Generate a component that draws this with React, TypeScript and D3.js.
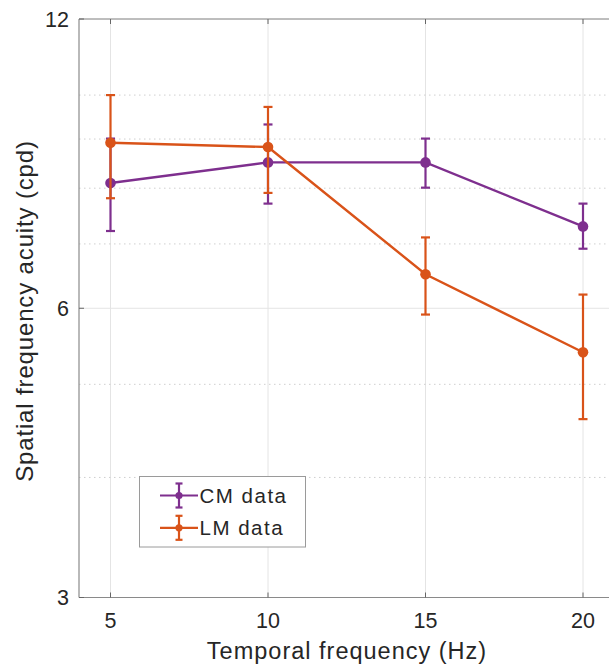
import React from "react";
import * as d3 from "d3";

const freqs = [5, 10, 15, 20];
const cmMean = [8.1, 8.51, 8.51, 7.3];
const cmLow = [7.22, 7.71, 8.01, 6.92];
const cmHigh = [9.01, 9.32, 9.01, 7.71];
const lmMean = [8.92, 8.83, 6.51, 5.4];
const lmLow = [7.81, 7.91, 5.91, 4.6];
const lmHigh = [10.0, 9.72, 7.11, 6.2];
const xTicks = [5, 10, 15, 20];
const yTicks = [3, 6, 12];
const yMinor = [4, 5, 7, 8, 9, 10];
const seriesNames = ["CM data", "LM data"];
const colors = ["#7E2F8E", "#D95319"];

const W = 609;
const H = 665;
const left = 79;
const top = 19;
const bottom = 597.5;
const right = 614.5;

export default function App() {
  const x = d3.scaleLinear().domain([4, 21]).range([left, right]);
  const y = d3.scaleLog().domain([3, 12]).range([bottom, top]);
  const line = d3
    .line<number>()
    .x((_, i) => x(freqs[i]))
    .y((d) => y(d));
  const series = [
    { mean: cmMean, low: cmLow, high: cmHigh },
    { mean: lmMean, low: lmLow, high: lmHigh },
  ];
  const font = "'Liberation Sans', Arial, Helvetica, sans-serif";
  const axisColor = "#8a8a8a";
  const cap = 4.5;
  return (
    <svg
      width={W}
      height={H}
      style={{ position: "absolute", left: 0, top: 0, background: "#fff" }}
      fontFamily={font}
    >
      <rect x={0} y={0} width={W} height={H} fill="#fff" />
      {/* grid */}
      {xTicks.map((t) => (
        <line key={"gx" + t} x1={x(t)} x2={x(t)} y1={top} y2={bottom} stroke="#e4e4e4" strokeWidth={1} />
      ))}
      {yMinor.map((t) => (
        <line key={"gm" + t} x1={left} x2={right} y1={y(t)} y2={y(t)} stroke="#cfcfcf" strokeWidth={1} strokeDasharray="1.5,3.5" />
      ))}
      {yTicks.map((t) => (
        <line key={"gy" + t} x1={left} x2={right} y1={y(t)} y2={y(t)} stroke="#e4e4e4" strokeWidth={1} />
      ))}
      {/* axes */}
      <line x1={left} x2={right} y1={top} y2={top} stroke={axisColor} strokeWidth={1.2} />
      <line x1={left} x2={right} y1={bottom} y2={bottom} stroke={axisColor} strokeWidth={1.2} />
      <line x1={left} x2={left} y1={top} y2={bottom} stroke={axisColor} strokeWidth={1.2} />
      {xTicks.map((t) => (
        <g key={"tx" + t}>
          <line x1={x(t)} x2={x(t)} y1={bottom} y2={bottom - 5} stroke="#666" strokeWidth={1} />
          <line x1={x(t)} x2={x(t)} y1={top} y2={top + 5} stroke="#666" strokeWidth={1} />
          <text x={x(t)} y={627.5} textAnchor="middle" fontSize={21.5} fill="#262626">
            {t}
          </text>
        </g>
      ))}
      {yTicks.map((t) => (
        <g key={"ty" + t}>
          <line x1={left} x2={left + 5} y1={y(t)} y2={y(t)} stroke="#666" strokeWidth={1} />
          <text x={69} y={y(t) + 7.5} textAnchor="end" fontSize={21.5} fill="#262626">
            {t}
          </text>
        </g>
      ))}
      <text x={347} y={658.5} textAnchor="middle" fontSize={23.5} letterSpacing={1.0} fill="#262626">
        Temporal frequency (Hz)
      </text>
      <text
        transform={`translate(33,311) rotate(-90)`}
        textAnchor="middle"
        fontSize={24}
        letterSpacing={0.85}
        fill="#262626"
      >
        Spatial frequency acuity (cpd)
      </text>
      {/* data */}
      {series.map((s, si) => (
        <g key={"s" + si}>
          <path d={line(s.mean) || ""} fill="none" stroke={colors[si]} strokeWidth={2.4} />
          {freqs.map((f, i) => (
            <g key={"e" + i}>
              <line x1={x(f)} x2={x(f)} y1={y(s.low[i])} y2={y(s.high[i])} stroke={colors[si]} strokeWidth={2.2} />
              <line x1={x(f) - cap} x2={x(f) + cap} y1={y(s.low[i])} y2={y(s.low[i])} stroke={colors[si]} strokeWidth={2.2} />
              <line x1={x(f) - cap} x2={x(f) + cap} y1={y(s.high[i])} y2={y(s.high[i])} stroke={colors[si]} strokeWidth={2.2} />
              <circle cx={x(f)} cy={y(s.mean[i])} r={5.3} fill={colors[si]} />
            </g>
          ))}
        </g>
      ))}
      {/* legend */}
      <rect x={139.5} y={476.5} width={166} height={70.5} fill="#fff" stroke="#9a9a9a" strokeWidth={1} />
      {seriesNames.map((n, i) => {
        const cy = 495.5 + i * 32.3;
        return (
          <g key={"l" + i}>
            <line x1={160} x2={198} y1={cy} y2={cy} stroke={colors[i]} strokeWidth={2.2} />
            <line x1={179} x2={179} y1={cy - 12} y2={cy + 12} stroke={colors[i]} strokeWidth={2.2} />
            <line x1={175.5} x2={182.5} y1={cy - 12} y2={cy - 12} stroke={colors[i]} strokeWidth={2.2} />
            <line x1={175.5} x2={182.5} y1={cy + 12} y2={cy + 12} stroke={colors[i]} strokeWidth={2.2} />
            <circle cx={179} cy={cy} r={3.6} fill={colors[i]} />
            <text x={199.5} y={cy + 7.5} fontSize={20.5} letterSpacing={1.5} fill="#262626">
              {n}
            </text>
          </g>
        );
      })}
    </svg>
  );
}
